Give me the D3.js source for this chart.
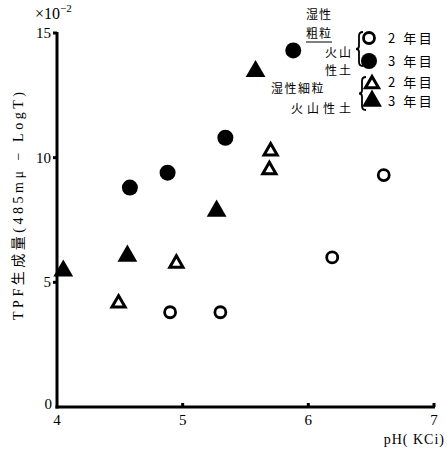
<!DOCTYPE html>
<html><head><meta charset="utf-8">
<script src="https://cdn.jsdelivr.net/npm/d3@7"></script>
<style>
body{margin:0;background:#fff;}
text{font-family:"Liberation Serif","DejaVu Serif","Noto Sans CJK JP",serif;fill:#000;}
.cjk{font-family:"Noto Sans CJK JP",sans-serif;}
</style></head><body>
<svg id="c" width="447" height="452"></svg>
<script>
const xTicks = [4, 5, 6, 7];
const yTicks = [0, 5, 10, 15];
const coarse2 = [[4.90, 3.8], [5.30, 3.8], [6.19, 6.0], [6.60, 9.3]];
const coarse3 = [[4.58, 8.8], [4.88, 9.4], [5.34, 10.8], [5.88, 14.3]];
const fine2 = [[4.49, 4.2], [4.95, 5.8], [5.69, 9.55], [5.70, 10.3]];
const fine3 = [[4.05, 5.5], [4.56, 6.1], [5.27, 7.9], [5.58, 13.5]];

const svg = d3.select("#c");
const x = d3.scaleLinear().domain([4, 7]).range([57, 434]);
const y = d3.scaleLinear().domain([0, 15]).range([407, 33]);

// axes lines
svg.append("line").attr("x1", x(4)).attr("x2", x(4)).attr("y1", y(15)-1).attr("y2", y(0)+1.5)
  .attr("stroke", "#000").attr("stroke-width", 3);
svg.append("line").attr("x1", x(4)-1.5).attr("x2", x(7)+1).attr("y1", y(0)).attr("y2", y(0))
  .attr("stroke", "#000").attr("stroke-width", 3);

// ticks
svg.selectAll(".xt").data(xTicks.slice(1)).enter().append("line")
  .attr("x1", d => x(d)).attr("x2", d => x(d)).attr("y1", y(0)).attr("y2", y(0)-4)
  .attr("stroke", "#000").attr("stroke-width", 3);
svg.selectAll(".yt").data(yTicks.slice(1)).enter().append("line")
  .attr("x1", x(4)).attr("x2", x(4)-4).attr("y1", d => y(d)).attr("y2", d => y(d))
  .attr("stroke", "#000").attr("stroke-width", 3);

svg.selectAll(".xl").data(xTicks).enter().append("text")
  .attr("x", d => x(d)).attr("y", y(0)+18).attr("text-anchor", "middle")
  .attr("font-size", 15).text(d => d);
svg.selectAll(".yl").data(yTicks).enter().append("text")
  .attr("x", d => d === 0 ? x(4)-5 : x(4)-6).attr("y", d => y(d)+(d===0?2:5)).attr("text-anchor", "end")
  .attr("font-size", 15).text(d => d);

// exponent label
const ex = svg.append("text").attr("x", 35).attr("y", 19).attr("font-size", 16);
ex.append("tspan").text("×10");
ex.append("tspan").attr("font-size", 11).attr("dy", -7).text("−2");

// x label
svg.append("text").attr("x", 445).attr("y", 444).attr("text-anchor", "end")
  .attr("font-size", 14).attr("letter-spacing", 1).text("pH( KCi)");

// y label
const yl = svg.append("text").attr("transform", "translate(23,206) rotate(-90)")
  .attr("text-anchor", "middle").attr("font-size", 14)
  .attr("textLength", 228).attr("lengthAdjust", "spacing");
yl.append("tspan").text("TPF");
yl.append("tspan").attr("class", "cjk").text("生成量");
yl.append("tspan").text("(485mμ − LogT)");

// markers
const tri = (s) => d3.symbol().type(d3.symbolTriangle).size(s)();
svg.selectAll(".c2").data(coarse2).enter().append("circle")
  .attr("cx", d => x(d[0])).attr("cy", d => y(d[1])).attr("r", 5.5)
  .attr("fill", "#fff").attr("stroke", "#000").attr("stroke-width", 2.8);
svg.selectAll(".c3").data(coarse3).enter().append("circle")
  .attr("cx", d => x(d[0])).attr("cy", d => y(d[1])).attr("r", 8)
  .attr("fill", "#000");
svg.selectAll(".f2").data(fine2).enter().append("path")
  .attr("d", tri(75)).attr("transform", d => `translate(${x(d[0])},${y(d[1])+1})`)
  .attr("fill", "#fff").attr("stroke", "#000").attr("stroke-width", 3).attr("stroke-linejoin", "miter");
svg.selectAll(".f3").data(fine3).enter().append("path")
  .attr("d", tri(170)).attr("transform", d => `translate(${x(d[0])},${y(d[1])+1})`)
  .attr("fill", "#000");

// legend
const lt = (t, xx, yy, ls) => svg.append("text").attr("class", "cjk").attr("x", xx).attr("y", yy)
  .attr("font-size", 12).attr("letter-spacing", ls || 0).text(t);
lt("湿性", 306, 19, 1);
lt("粗粒", 306, 38, 1);
svg.append("line").attr("x1", 306).attr("x2", 332).attr("y1", 42).attr("y2", 42).attr("stroke", "#000").attr("stroke-width", 1);
lt("火山", 325, 57, 2);
lt("性土", 325, 75, 2);
lt("湿性細粒", 271, 93, 1.5);
lt("火山性土", 291, 113, 4);
// braces
const brace = (bx, y0, y1) => {
  const m = (y0 + y1) / 2;
  const p = `M${bx+4},${y0} Q${bx},${y0} ${bx},${y0+4} L${bx},${m-3} Q${bx},${m} ${bx-3},${m} Q${bx},${m} ${bx},${m+3} L${bx},${y1-4} Q${bx},${y1} ${bx+4},${y1}`;
  svg.append("path").attr("d", p).attr("fill", "none").attr("stroke", "#000").attr("stroke-width", 1.8);
};
brace(359, 32, 66);
brace(362, 77, 110);
svg.append("circle").attr("cx", 369).attr("cy", 38).attr("r", 5.5).attr("fill", "#fff").attr("stroke", "#000").attr("stroke-width", 2.8);
svg.append("circle").attr("cx", 369).attr("cy", 61).attr("r", 8).attr("fill", "#000");
svg.append("path").attr("d", tri(75)).attr("transform", "translate(372,84)").attr("fill", "#fff").attr("stroke", "#000").attr("stroke-width", 3);
svg.append("path").attr("d", tri(170)).attr("transform", "translate(372,101)").attr("fill", "#000");
const lt2 = (t, yy) => svg.append("text").attr("class", "cjk").attr("x", 388).attr("y", yy)
  .attr("font-size", 13).attr("letter-spacing", 2.5).text(t);
lt2("2 年目", 43);
lt2("3 年目", 66);
lt2("2 年目", 87);
lt2("3 年目", 106);
</script></body></html>
